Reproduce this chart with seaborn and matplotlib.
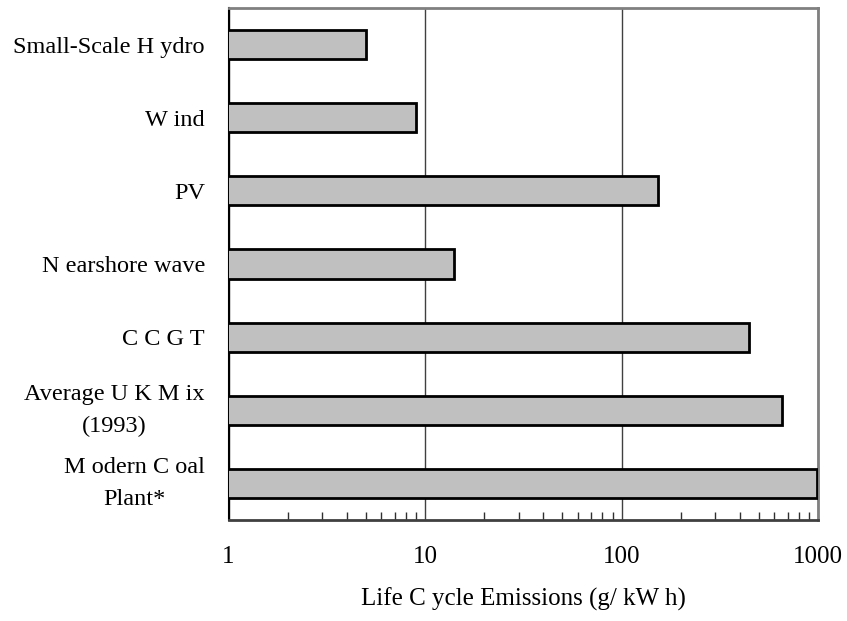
import matplotlib
matplotlib.use("Agg")
import matplotlib.pyplot as plt
import matplotlib.ticker as mticker
import seaborn as sns
import pandas as pd

categories = [
    "Small-Scale H ydro",
    "W ind",
    "PV",
    "N earshore wave",
    "C C G T",
    "Average U K M ix\n(1993)",
    "M odern C oal\nPlant*",
]
emissions = [5, 9, 153, 14, 447, 656, 990]
xtick_values = [1, 10, 100, 1000]
xtick_labels = ["1", "10", "100", "1000"]
xlabel_text = "Life C ycle Emissions (g/ kW h)"

sns.set_theme(style="white")
plt.rcParams["font.family"] = ["Liberation Serif", "DejaVu Serif"]

df = pd.DataFrame({"source": categories, "value": emissions})

fig = plt.figure(figsize=(8.47, 6.21), dpi=100)
ax = fig.add_axes([228.5 / 847, 1 - 520 / 621, (818 - 228.5) / 847, (520 - 8) / 621])

sns.barplot(data=df, x="value", y="source", orient="h", color="#c0c0c0",
            edgecolor="black", linewidth=2, width=0.4, saturation=1,
            ax=ax, zorder=3)
ax.set_xscale("log")

ax.set_xlim(1, 1000)
ax.set_ylim(6.5, -0.5)
ax.xaxis.set_major_locator(mticker.FixedLocator(xtick_values))
ax.xaxis.set_major_formatter(mticker.FixedFormatter(xtick_labels))
ax.xaxis.set_minor_locator(mticker.LogLocator(base=10, subs=range(2, 10)))
ax.xaxis.set_minor_formatter(mticker.NullFormatter())
ax.tick_params(axis="x", which="major", direction="in", length=0, pad=19,
               labelsize=18, colors="#202020", labelcolor="black", bottom=True)
ax.tick_params(axis="x", which="minor", direction="in", length=6, width=1,
               colors="#303030", bottom=True)
ax.tick_params(axis="y", length=0, pad=17, labelsize=17.5, labelcolor="black")
for lbl in ax.get_yticklabels():
    lbl.set_multialignment("center")
    lbl.set_linespacing(1.7)
    if "\n" in lbl.get_text():
        lbl.set_verticalalignment("center")

ax.xaxis.grid(True, which="major", color="#404040", linewidth=1)
ax.yaxis.grid(False)
ax.set_axisbelow(True)

ax.set_xlabel(xlabel_text, fontsize=18, labelpad=14, color="black")
ax.set_ylabel("")

for side in ["top", "right"]:
    ax.spines[side].set_visible(True)
    ax.spines[side].set_color("#808080")
    ax.spines[side].set_linewidth(2)
ax.spines["left"].set_color("black")
ax.spines["left"].set_linewidth(1.5)
ax.spines["bottom"].set_color("#404040")
ax.spines["bottom"].set_linewidth(2)

fig.savefig("out.png", dpi=100, facecolor="white")
